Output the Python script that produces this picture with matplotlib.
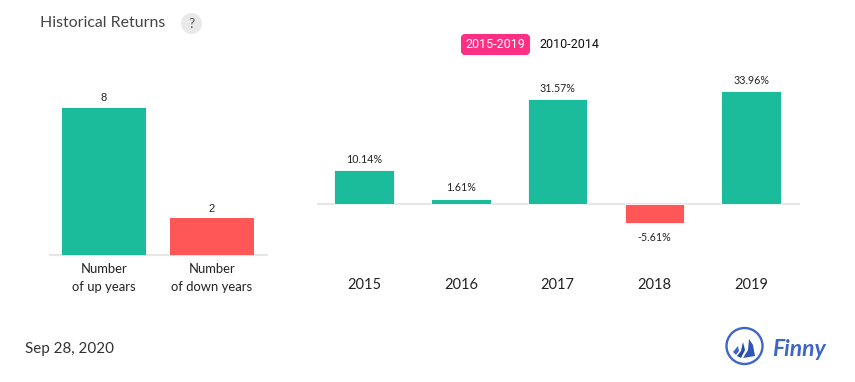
import matplotlib
matplotlib.use("Agg")
import matplotlib.pyplot as plt
from matplotlib.patches import Circle, FancyBboxPatch, Polygon

W, H = 855, 382
GREEN = "#1abc9c"
RED = "#ff5757"

count_labels = ["Number\nof up years", "Number\nof down years"]
count_values = [8, 2]

years = ["2015", "2016", "2017", "2018", "2019"]
returns = [10.14, 1.61, 31.57, -5.61, 33.96]

plt.rcParams["font.family"] = ["Lato", "DejaVu Sans"]


def px_axes(fig, x0, x1, y_top, y_bottom):
    # axes placed by pixel box, y measured from the top of the image
    return fig.add_axes([x0 / W, 1 - y_bottom / H, (x1 - x0) / W, (y_bottom - y_top) / H])


def clean(ax):
    for s in ax.spines.values():
        s.set_visible(False)
    ax.set_yticks([])
    ax.tick_params(length=0)
    ax.patch.set_alpha(0)


def bar_color(v):
    return GREEN if v >= 0 else RED


fig = plt.figure(figsize=(W / 100, H / 100), dpi=100, facecolor="white")

# left chart: up / down year counts
ax1 = px_axes(fig, 50, 267, 70, 255)
clean(ax1)
ax1.set_xlim(-0.5, 1.509)
ax1.set_ylim(0, 185 / 18.375)
ax1.spines["bottom"].set_visible(True)
ax1.spines["bottom"].set_color("#e6e6e6")
ax1.spines["bottom"].set_linewidth(1.5)
ax1.bar(range(2), count_values, width=0.778, color=[GREEN, RED], zorder=3)
for i, v in enumerate(count_values):
    ax1.annotate(str(v), (i, v), xytext=(0, 3.3), textcoords="offset points", ha="center",
                 va="bottom", fontsize=8, color="#222222", family="Liberation Sans")
ax1.set_xticks(range(2))
ax1.set_xticklabels(count_labels, fontsize=9.4, color="#222222", linespacing=1.55)
ax1.tick_params(axis="x", pad=6)

# right chart: annual returns
ax2 = px_axes(fig, 317, 800, 70, 250)
clean(ax2)
scale = 113 / 33.96
ax2.set_xlim((317 - 364.2) / 96.75, (800 - 364.2) / 96.75)
ax2.set_ylim(-46 / scale, 134 / scale)
ax2.axhline(0, color="#e6e6e6", lw=1.5, zorder=1)
ax2.bar(range(5), returns, width=0.615, color=[bar_color(v) for v in returns],
        edgecolor="white", linewidth=0.6, zorder=3)
for i, v in enumerate(returns):
    ax2.annotate(f"{v:.2f}%", (i, v), xytext=(0, 3.8 if v >= 0 else -7), textcoords="offset points",
                 ha="center", va="bottom" if v >= 0 else "top", fontsize=7.7, color="#222222")
ax2.set_xticks(range(5))
ax2.set_xticklabels(years, fontsize=10.5, color="#222222")
ax2.tick_params(axis="x", pad=20)

# overlay in pixel coordinates for title, toggle, date and logo
ov = fig.add_axes([0, 0, 1, 1])
ov.set_xlim(0, W)
ov.set_ylim(H, 0)
ov.axis("off")
ov.patch.set_alpha(0)

ov.text(40, 23, "Historical Returns", fontsize=11.4, color="#444444", va="center")
ov.add_patch(Circle((191.5, 23.5), 10.5, color="#e9e9e9", lw=0))
ov.text(191.5, 23.5, "?", fontsize=10, color="#555555", ha="center", va="center")

ov.add_patch(FancyBboxPatch((462, 35), 67, 19, boxstyle="round,pad=0,rounding_size=3",
                            fc="#ff2f83", ec="#ff2f83", lw=1.5))
ov.text(495.5, 44.5, "2015-2019", fontsize=9, color="white", ha="center", va="center",
        family="Roboto")
ov.text(569.5, 44.5, "2010-2014", fontsize=9, color="#111111", ha="center", va="center",
        family="Roboto")

ov.text(25, 349, "Sep 28, 2020", fontsize=10.9, color="#333333", va="center")

# logo
ov.add_patch(Circle((744.5, 346), 18, fc="white", ec="#3f66c7", lw=1.7))
ov.add_patch(Polygon([(749, 339), (753, 345), (755, 356), (743, 358), (748, 350)], color="#2f56b5", lw=0))
ov.add_patch(Polygon([(743, 342), (745, 350), (741, 358), (737, 356), (741, 351)], color="#2449a8", lw=0))
ov.add_patch(Polygon([(738, 346), (739, 351), (736, 355), (733, 352)], color="#3f66c7", lw=0))
ov.text(772, 349.5, "Finny", fontsize=16.5, color="#3f66c7", va="center", style="italic",
        weight="bold", family="Lato")

fig.savefig("out.png", dpi=100)
